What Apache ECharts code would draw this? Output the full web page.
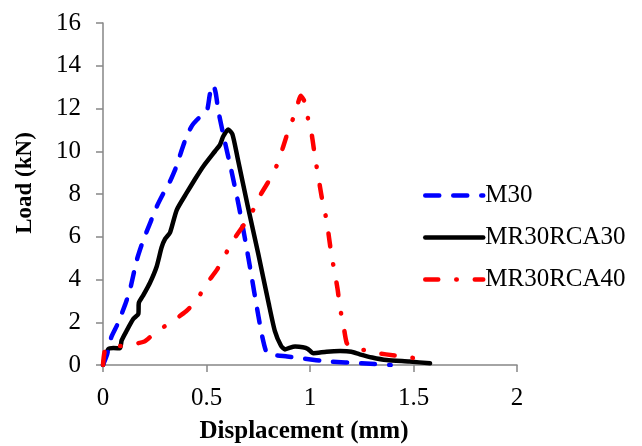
<!DOCTYPE html>
<html>
<head>
<meta charset="utf-8">
<script src="https://cdn.jsdelivr.net/npm/echarts@6/dist/echarts.min.js"></script>
<style>
html,body{margin:0;padding:0;background:#fff;}
#chart{width:642px;height:446px;}
</style>
</head>
<body>
<div id="chart"></div>
<script>
// Tick labels
const xTicks = [0, 0.5, 1, 1.5, 2];
const yTicks = [0, 2, 4, 6, 8, 10, 12, 14, 16];
// Series names
const seriesNames = ['M30', 'MR30RCA30', 'MR30RCA40'];
// Series values [displacement (mm), load (kN)]
const m30 = [[0,0],[0.02,0.5],[0.04,1.3],[0.07,1.9],[0.106,2.8],[0.13,3.5],[0.163,4.9],[0.195,5.85],[0.23,6.7],[0.259,7.4],[0.29,8.0],[0.324,8.6],[0.355,9.3],[0.38,10.05],[0.404,10.7],[0.43,11.2],[0.452,11.45],[0.49,11.8],[0.505,12.0],[0.517,12.7],[0.533,13.1],[0.545,12.7],[0.557,11.9],[0.585,10.6],[0.62,9.1],[0.655,7.5],[0.686,5.9],[0.715,4.3],[0.745,2.6],[0.77,1.3],[0.79,0.6],[0.82,0.48],[0.89,0.4],[0.97,0.3],[1.09,0.16],[1.25,0.08],[1.39,0.0]];
const mr30rca30 = [[0,0],[0.01,0.4],[0.026,0.75],[0.05,0.8],[0.082,0.78],[0.09,1.15],[0.114,1.6],[0.146,2.15],[0.171,2.4],[0.173,2.9],[0.195,3.27],[0.227,3.85],[0.259,4.6],[0.283,5.5],[0.3,5.9],[0.324,6.2],[0.356,7.25],[0.404,8.05],[0.445,8.7],[0.485,9.3],[0.541,10.0],[0.565,10.3],[0.581,10.7],[0.605,11.02],[0.625,10.8],[0.65,9.7],[0.7,7.4],[0.75,5.2],[0.8,2.9],[0.83,1.6],[0.86,0.9],[0.879,0.73],[0.9,0.8],[0.928,0.86],[0.965,0.83],[0.99,0.75],[1.016,0.55],[1.08,0.62],[1.145,0.65],[1.2,0.62],[1.24,0.5],[1.3,0.35],[1.37,0.23],[1.48,0.16],[1.58,0.08]];
const mr30rca40 = [[0,0],[0.01,0.7],[0.04,0.85],[0.1,0.9],[0.2,1.1],[0.25,1.5],[0.32,1.95],[0.4,2.5],[0.45,3.0],[0.5,3.8],[0.55,4.45],[0.59,5.15],[0.63,5.85],[0.68,6.55],[0.72,7.15],[0.76,7.95],[0.81,8.75],[0.84,9.35],[0.87,10.2],[0.9,11.1],[0.93,11.8],[0.955,12.6],[0.975,12.3],[0.99,11.55],[1.008,10.8],[1.024,9.75],[1.048,8.35],[1.065,7.4],[1.08,6.8],[1.092,5.95],[1.105,5.07],[1.12,4.3],[1.134,3.5],[1.145,2.67],[1.16,1.96],[1.177,1.04],[1.2,0.8],[1.26,0.7],[1.32,0.56],[1.415,0.44],[1.5,0.33],[1.55,0.25],[1.58,0.18]];

const FONT = '"Liberation Serif", "Times New Roman", serif';
const chart = echarts.init(document.getElementById('chart'), null, {renderer: 'canvas'});
const axisColor = '#868686';
chart.setOption({
  animation: false,
  backgroundColor: '#fff',
  grid: {left: 103, right: 125, top: 23, bottom: 81, containLabel: false, outerBoundsMode: 'none'},
  legend: {
    orient: 'vertical',
    left: 418,
    top: 178,
    itemWidth: 58,
    itemHeight: 14,
    itemGap: 17,
    data: seriesNames,
    lineStyle: {width: 4.5, cap: 'round'},
    itemStyle: {opacity: 0},
    textStyle: {fontFamily: FONT, fontSize: 25, color: '#000', padding: [0,0,0,-3]}
  },
  xAxis: {
    type: 'value',
    min: xTicks[0], max: xTicks[xTicks.length-1], interval: xTicks[1]-xTicks[0],
    name: 'Displacement (mm)',
    nameLocation: 'middle',
    nameGap: 54,
    nameTextStyle: {fontFamily: FONT, fontSize: 25, fontWeight: 'bold', color: '#000', padding: [0,12,0,0]},
    axisLine: {lineStyle: {color: axisColor, width: 1.5}},
    axisTick: {show: true, length: 7, lineStyle: {color: axisColor, width: 1.5}},
    axisLabel: {fontFamily: FONT, fontSize: 25, color: '#000', margin: 21},
    splitLine: {show: false}
  },
  yAxis: {
    type: 'value',
    min: yTicks[0], max: yTicks[yTicks.length-1], interval: yTicks[1]-yTicks[0],
    name: 'Load (kN)',
    nameLocation: 'middle',
    nameGap: 66,
    nameTextStyle: {fontFamily: FONT, fontSize: 23, fontWeight: 'bold', color: '#000', padding: [0,0,0,22]},
    axisLine: {show: true, lineStyle: {color: axisColor, width: 1.5}},
    axisTick: {show: true, length: 7, lineStyle: {color: axisColor, width: 1.5}},
    axisLabel: {fontFamily: FONT, fontSize: 25, color: '#000', margin: 22},
    splitLine: {show: false}
  },
  series: [
    {
      name: seriesNames[0], type: 'line', data: m30, symbol: 'none', smooth: 0.2,
      lineStyle: {color: '#0000ff', width: 4.5, type: [14, 14], cap: 'round', join: 'round'},
      itemStyle: {color: '#0000ff'}, z: 3
    },
    {
      name: seriesNames[1], type: 'line', data: mr30rca30, symbol: 'none', smooth: 0.2,
      lineStyle: {color: '#000000', width: 4.5, type: 'solid', cap: 'round', join: 'round'},
      itemStyle: {color: '#000000'}, z: 2
    },
    {
      name: seriesNames[2], type: 'line', data: mr30rca40, symbol: 'none', smooth: 0.2,
      lineStyle: {color: '#ff0000', width: 4.5, type: [13, 18, 0.5, 18], cap: 'round', join: 'round'},
      itemStyle: {color: '#ff0000'}, z: 4
    }
  ]
});
</script>
</body>
</html>
